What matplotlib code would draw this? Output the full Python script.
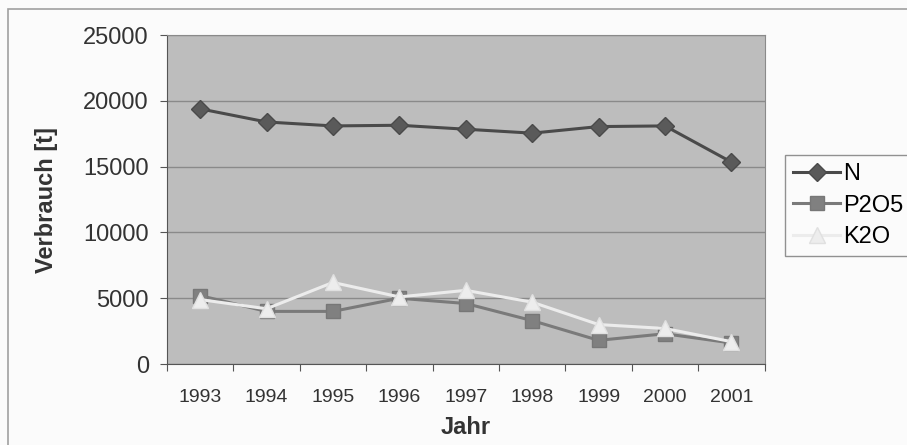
import matplotlib.pyplot as plt
from matplotlib.patches import Rectangle

plt.rcParams['font.family'] = ['Liberation Sans', 'DejaVu Sans']

# data
years = ["1993", "1994", "1995", "1996", "1997", "1998", "1999", "2000", "2001"]
n_vals = [19400, 18400, 18100, 18150, 17850, 17550, 18050, 18100, 15350]
p2o5_vals = [5200, 4000, 4000, 5000, 4600, 3300, 1800, 2300, 1600]
k2o_vals = [4900, 4200, 6200, 5100, 5600, 4700, 3000, 2700, 1700]

fig = plt.figure(figsize=(9.07, 4.45), dpi=100)
fig.patch.set_facecolor("#fbfbfb")

# outer chart frame (runs off the scan at right and bottom)
fig.patches.append(Rectangle((0.009, -0.05), 1.1, 1.03, transform=fig.transFigure,
                             fill=False, edgecolor="#a0a0a0", linewidth=1.2))

ax = fig.add_axes([0.184, 0.182, 0.659, 0.739])
ax.set_facecolor("#bdbdbd")

x = range(len(years))
ax.plot(x, n_vals, color="#4a4a4a", linewidth=2.2, marker="D", markersize=9,
        markerfacecolor="#5a5a5a", markeredgecolor="#4a4a4a", label="N", zorder=3)
ax.plot(x, p2o5_vals, color="#7a7a7a", linewidth=2.2, marker="s", markersize=10,
        markerfacecolor="#808080", markeredgecolor="#777777", label="P2O5", zorder=3)
ax.plot(x, k2o_vals, color="#ececec", linewidth=2.2, marker="^", markersize=11,
        markerfacecolor="#ededed", markeredgecolor="#e0e0e0", label="K2O", zorder=4)

ax.set_xlim(-0.5, len(years) - 0.5)
ax.set_ylim(0, 25000)
ax.set_yticks(range(0, 25001, 5000))
ax.set_xticks([i - 0.5 for i in range(len(years) + 1)], minor=False)
ax.set_xticklabels([])
ax.set_xticks(list(x), minor=True)
ax.set_xticklabels(years, minor=True)
ax.tick_params(axis="x", which="minor", length=0, labelsize=14, colors="#333333", pad=18)
ax.tick_params(axis="x", which="major", length=5, direction="out", color="#555555")
ax.tick_params(axis="y", labelsize=17, colors="#333333", length=5, direction="out",
               color="#555555", pad=8)

ax.grid(axis="y", color="#8a8a8a", linewidth=1.0)
ax.set_axisbelow(True)
for side in ["top", "right"]:
    ax.spines[side].set_color("#8a8a8a")
for side in ["left", "bottom"]:
    ax.spines[side].set_color("#555555")

ax.set_xlabel("Jahr", fontsize=17, fontweight="bold", color="#333333", labelpad=7)
ax.set_ylabel("Verbrauch [t]", fontsize=17, fontweight="bold", color="#333333", labelpad=18)

leg = fig.legend(loc="upper left", bbox_to_anchor=(0.8655, 0.652), fontsize=17,
                 frameon=True, fancybox=False, edgecolor="#777777", facecolor="#fbfbfb",
                 handlelength=2.0, borderpad=0.35, labelspacing=0.4, handletextpad=0.1,
                 borderaxespad=0)
leg.get_frame().set_linewidth(1.0)

fig.savefig("out.png", dpi=100)
